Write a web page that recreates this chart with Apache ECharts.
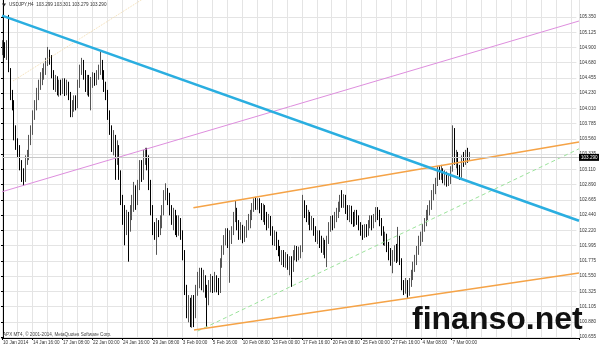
<!DOCTYPE html>
<html><head><meta charset="utf-8">
<script src="https://cdn.jsdelivr.net/npm/echarts@6/dist/echarts.min.js"></script>
<style>html,body{margin:0;padding:0;background:#fff}#c{width:599px;height:347px}</style>
</head><body><div id="c"></div>
<script>
// ---- data ----
const TICK_LABELS = ["10 Jan 2014","14 Jan 16:00","17 Jan 08:00","22 Jan 00:00","24 Jan 16:00","29 Jan 08:00","3 Feb 00:00","5 Feb 16:00","10 Feb 08:00","13 Feb 00:00","17 Feb 16:00","20 Feb 08:00","25 Feb 00:00","27 Feb 16:00","4 Mar 08:00","7 Mar 00:00"];
const Y_LABELS = ["100.655","100.880","101.105","101.325","101.550","101.775","101.995","102.220","102.440","102.665","102.890","103.110","103.335","103.560","103.785","104.010","104.230","104.455","104.680","104.900","105.125","105.350"];
const SLOTS = 308;           // H4 bar slots incl. chart shift space
const LAST_PRICE = 103.290;
const TITLE = "USDJPY,H4  103.299 103.301 103.279 103.290";
const COPYRIGHT = "APX MT4, \u00a9 2001-2014, MetaQuotes Software Corp.";
const WATERMARK = "finanso.net";

const OPEN = [
104.87,104.94,104.79,104.89,104.57,104.20,104.06,103.69,103.47,103.40,
103.18,103.03,102.99,103.25,103.32,103.54,103.69,103.91,104.06,104.20,
104.35,104.43,104.50,104.57,104.69,104.79,104.72,104.50,104.35,104.43,
104.28,104.35,104.31,104.40,104.28,104.35,104.20,103.96,104.01,104.13,
104.06,104.35,104.57,104.65,104.50,104.35,104.43,104.28,104.40,104.45,
104.43,104.50,104.57,104.65,104.50,104.31,104.20,103.91,103.69,103.43,
103.54,103.28,103.40,103.03,102.66,102.44,102.30,102.37,102.25,102.44,
102.59,102.81,102.66,102.88,103.13,103.03,103.25,103.32,103.25,102.88,
102.52,102.25,102.20,102.30,102.22,102.34,102.52,102.74,102.78,102.69,
102.52,102.37,102.44,102.30,102.22,102.34,102.15,101.86,101.34,101.05,
101.12,100.93,101.20,101.02,101.31,101.49,101.61,101.42,101.52,101.34,
101.20,101.42,101.49,101.37,101.52,101.42,101.34,101.71,101.93,102.08,
102.15,102.08,102.11,102.20,102.40,102.49,102.30,102.15,102.25,102.11,
102.20,102.30,102.37,102.44,102.55,102.64,102.59,102.66,102.55,102.44,
102.52,102.40,102.30,102.37,102.20,102.08,102.14,102.00,101.93,101.81,
101.86,101.76,101.81,101.71,101.76,101.67,101.86,101.93,101.86,101.90,
101.93,102.59,102.52,102.40,102.44,102.30,102.34,102.20,102.11,102.15,
102.05,101.96,102.02,101.93,102.08,102.25,102.34,102.30,102.40,102.44,
102.55,102.66,102.62,102.69,102.52,102.44,102.52,102.40,102.34,102.44,
102.37,102.28,102.22,102.15,102.25,102.20,102.30,102.37,102.30,102.40,
102.49,102.44,102.34,102.20,102.08,102.11,101.96,101.86,101.78,101.86,
101.93,101.81,102.08,101.76,101.42,101.34,101.42,101.31,101.46,101.56,
101.67,101.78,101.93,102.08,102.12,102.25,102.34,102.44,102.52,102.59,
102.74,102.81,102.91,103.08,103.02,103.10,102.99,103.03,102.93,102.99,
103.10,103.54,103.22,103.32,103.10,103.03,103.25,103.22,103.32,103.28];
const HIGH = [
105.01,104.98,105.01,105.38,104.60,104.28,104.13,103.76,103.57,103.47,
103.25,103.13,103.32,103.40,103.62,103.76,103.98,104.13,104.31,104.43,
104.54,104.60,104.67,104.75,104.91,104.87,104.79,104.57,104.50,104.48,
104.43,104.43,104.45,104.45,104.43,104.40,104.25,104.13,104.20,104.20,
104.43,104.65,104.75,104.72,104.57,104.50,104.50,104.47,104.54,104.53,
104.57,104.65,104.84,104.72,104.57,104.40,104.28,103.98,103.76,103.69,
103.62,103.54,103.47,103.10,102.74,102.59,102.52,102.49,102.59,102.74,
102.93,102.88,102.96,103.25,103.25,103.40,103.43,103.43,103.32,102.96,
102.59,102.34,102.40,102.37,102.44,102.59,102.81,102.91,102.84,102.77,
102.59,102.55,102.52,102.44,102.44,102.40,102.22,101.93,101.42,101.27,
101.23,101.27,101.27,101.42,101.61,101.67,101.67,101.64,101.56,101.42,
101.49,101.58,101.55,101.61,101.56,101.52,101.81,102.00,102.15,102.25,
102.25,102.22,102.28,102.49,102.66,102.55,102.37,102.34,102.30,102.28,
102.37,102.46,102.52,102.62,102.69,102.71,102.69,102.69,102.62,102.61,
102.59,102.49,102.46,102.43,102.28,102.22,102.20,102.08,101.99,101.93,
101.93,101.90,101.87,101.84,101.84,101.93,102.00,101.99,101.98,102.00,
102.74,102.66,102.59,102.52,102.49,102.43,102.40,102.28,102.22,102.22,
102.14,102.11,102.08,102.14,102.34,102.43,102.44,102.49,102.55,102.64,
102.74,102.81,102.75,102.74,102.59,102.59,102.58,102.49,102.52,102.52,
102.44,102.34,102.30,102.31,102.31,102.37,102.44,102.44,102.46,102.56,
102.56,102.52,102.40,102.28,102.20,102.17,102.05,101.96,101.93,102.00,
102.02,102.27,102.14,101.81,101.49,101.52,101.49,101.52,101.64,101.76,
101.86,101.99,102.14,102.20,102.31,102.40,102.52,102.59,102.66,102.81,
102.90,102.99,103.16,103.16,103.18,103.13,103.10,103.08,103.06,103.16,
103.76,103.72,103.40,103.37,103.18,103.32,103.37,103.40,103.43,103.37];
const LOW = [
104.79,104.75,104.72,104.54,104.13,103.98,103.54,103.40,103.28,103.10,
102.93,102.87,102.93,103.18,103.25,103.47,103.62,103.84,103.98,104.13,
104.28,104.35,104.43,104.50,104.63,104.65,104.45,104.28,104.25,104.20,
104.18,104.20,104.22,104.19,104.20,104.13,103.88,103.88,103.96,103.98,
104.01,104.31,104.50,104.43,104.25,104.20,104.18,103.98,104.31,104.34,
104.35,104.43,104.50,104.43,104.25,104.13,103.84,103.62,103.37,103.32,
102.96,103.18,102.96,102.59,102.30,102.00,102.15,101.76,102.20,102.37,
102.49,102.52,102.59,102.81,102.93,102.96,103.18,103.10,102.81,102.44,
102.15,102.08,101.86,102.12,102.15,102.25,102.44,102.66,102.59,102.44,
102.30,102.22,102.15,102.12,102.14,102.08,101.78,101.27,100.93,100.87,
100.80,100.79,100.80,100.93,101.26,101.37,101.34,101.31,101.23,100.80,
101.12,101.31,101.30,101.31,101.31,101.27,101.30,101.67,101.86,102.00,
101.96,101.45,102.02,102.15,102.34,102.22,102.08,102.08,102.03,102.05,
102.11,102.22,102.25,102.37,102.49,102.52,102.52,102.47,102.37,102.34,
102.30,102.22,102.25,102.14,102.00,101.99,101.93,101.84,101.76,101.71,
101.68,101.67,101.64,101.56,101.39,101.61,101.78,101.76,101.78,101.81,
101.90,102.40,102.34,102.30,102.22,102.22,102.14,102.05,102.02,101.96,
101.89,101.86,101.81,101.68,102.02,102.20,102.22,102.25,102.34,102.40,
102.49,102.55,102.55,102.46,102.37,102.34,102.31,102.27,102.28,102.30,
102.22,102.14,102.08,102.11,102.12,102.14,102.25,102.22,102.25,102.34,
102.37,102.28,102.14,102.00,101.99,101.90,101.78,101.70,101.59,101.76,
101.74,101.76,101.71,101.34,101.27,101.29,101.23,101.26,101.39,101.49,
101.61,101.71,101.86,101.99,102.05,102.20,102.28,102.37,102.44,102.52,
102.66,102.75,102.87,102.96,102.96,102.91,102.88,102.86,102.87,102.90,
103.08,103.18,103.13,103.03,102.96,102.99,103.15,103.18,103.21,103.25];
const CLOSE = [
104.94,104.79,104.89,104.57,104.20,104.06,103.69,103.47,103.40,103.18,
103.03,102.99,103.25,103.32,103.54,103.69,103.91,104.06,104.20,104.35,
104.43,104.50,104.57,104.69,104.79,104.72,104.50,104.35,104.43,104.28,
104.35,104.31,104.40,104.28,104.35,104.20,103.96,104.01,104.13,104.06,
104.35,104.57,104.65,104.50,104.35,104.43,104.28,104.40,104.45,104.43,
104.50,104.57,104.65,104.50,104.31,104.20,103.91,103.69,103.43,103.54,
103.28,103.40,103.03,102.66,102.44,102.30,102.37,102.25,102.44,102.59,
102.81,102.66,102.88,103.13,103.03,103.25,103.32,103.25,102.88,102.52,
102.25,102.20,102.30,102.22,102.34,102.52,102.74,102.78,102.69,102.52,
102.37,102.44,102.30,102.22,102.34,102.15,101.86,101.34,101.05,101.12,
100.93,101.20,101.02,101.31,101.49,101.61,101.42,101.52,101.34,101.20,
101.42,101.49,101.37,101.52,101.42,101.34,101.71,101.93,102.08,102.15,
102.08,102.11,102.20,102.40,102.49,102.30,102.15,102.25,102.11,102.20,
102.30,102.37,102.44,102.55,102.64,102.59,102.66,102.55,102.44,102.52,
102.40,102.30,102.37,102.20,102.08,102.14,102.00,101.93,101.81,101.86,
101.76,101.81,101.71,101.76,101.67,101.86,101.93,101.86,101.90,101.93,
102.59,102.52,102.40,102.44,102.30,102.34,102.20,102.11,102.15,102.05,
101.96,102.02,101.93,102.08,102.25,102.34,102.30,102.40,102.44,102.55,
102.66,102.62,102.69,102.52,102.44,102.52,102.40,102.34,102.44,102.37,
102.28,102.22,102.15,102.25,102.20,102.30,102.37,102.30,102.40,102.49,
102.44,102.34,102.20,102.08,102.11,101.96,101.86,101.78,101.86,101.93,
101.81,102.08,101.76,101.42,101.34,101.42,101.31,101.46,101.56,101.67,
101.78,101.93,102.08,102.12,102.25,102.34,102.44,102.52,102.59,102.74,
102.81,102.91,103.08,103.02,103.10,102.99,103.03,102.93,102.99,103.10,
103.54,103.22,103.32,103.10,103.03,103.25,103.22,103.32,103.28,103.29];

// trend lines: [bar index, price]
const CYAN_LINE   = [[-0.5, 105.37], [307.5, 102.36]];
const PINK_LINE   = [[-0.5, 102.786], [307.5, 105.291]];
const ORANGE_UP   = [[101.65, 102.552], [307.5, 103.516]];
const ORANGE_LOW  = [[101.97, 100.757], [307.5, 101.594]];
const GREEN_LINE  = [[103.94, 100.742], [307.5, 103.416]];
const YELLOW_LINE = [[5.36, 104.411], [75, 105.62]];

// ---- chart ----
const FONT = '"Liberation Sans", Arial, sans-serif';
const cats = Array.from({length: SLOTS}, (_, i) => String(i));
const candles = OPEN.map((o, i) => [o, CLOSE[i], LOW[i], HIGH[i]]);
const chart = echarts.init(document.getElementById('c'), null, {renderer: 'canvas'});

function trend(data, color, width, type, z) {
  return {type: 'line', xAxisIndex: 1, yAxisIndex: 0, data: data, symbol: 'none', silent: true,
    lineStyle: {color: color, width: width, type: type}, z: z, animation: false, clip: true};
}

chart.setOption({
  animation: false,
  backgroundColor: '#ffffff',
  grid: [
    {left: 1, right: 20, top: 0, bottom: 9},
    {left: 1, right: 20, top: 17, bottom: 10}
  ],
  xAxis: [
    {type: 'category', gridIndex: 0, data: cats, boundaryGap: true,
     axisLine: {show: true, lineStyle: {color: '#000', width: 1}},
     axisTick: {show: true, length: 2, interval: (i) => i % 16 === 0 && i / 16 < TICK_LABELS.length, lineStyle: {color: '#000'}},
     axisLabel: {show: true, interval: (i) => i % 16 === 0 && i / 16 < TICK_LABELS.length,
       formatter: (v, i) => TICK_LABELS[Math.round(Number(v) / 16)] || '', align: 'left', margin: 2,
       fontSize: 4.6, color: '#333', fontFamily: FONT, padding: [0, 0, 0, 0]},
     splitLine: {show: true, interval: (i) => i % 8 === 0, lineStyle: {color: '#e4e4e4', width: 1}}},
    {type: 'value', gridIndex: 0, min: -0.5, max: SLOTS - 0.5, show: false},
    {type: 'value', gridIndex: 1, show: false}
  ],
  yAxis: [
    {type: 'value', gridIndex: 0, position: 'right', min: 100.640, max: 105.599, scale: true,
     axisLine: {show: true, lineStyle: {color: '#000', width: 1}}, axisTick: {show: false},
     axisLabel: {show: false}, splitLine: {show: false}},
    {type: 'category', gridIndex: 1, position: 'right', data: Y_LABELS, boundaryGap: false,
     axisLine: {show: false}, axisTick: {show: true, length: 2, lineStyle: {color: '#000'}},
     axisLabel: {show: true, interval: 0, margin: 3, fontSize: 4.6, color: '#333', fontFamily: FONT},
     splitLine: {show: true, interval: 0, lineStyle: {color: '#e4e4e4', width: 1}}}
  ],
  series: [
    {type: 'candlestick', xAxisIndex: 0, yAxisIndex: 0, data: candles, barWidth: 1.3, z: 2,
     itemStyle: {color: '#8c8c8c', color0: '#000000', borderColor: '#555555', borderColor0: '#000000', borderWidth: 1},
     markLine: {symbol: 'none', silent: true, animation: false,
       data: [{yAxis: LAST_PRICE}],
       lineStyle: {color: '#c8c8c8', type: 'solid', width: 1},
       label: {position: 'end', formatter: LAST_PRICE.toFixed(3), backgroundColor: '#000', color: '#fff',
         fontSize: 4.6, fontFamily: FONT, padding: [1, 3, 1, 2], distance: 0}}},
    trend(YELLOW_LINE, '#f2dcb0', 1, 'dotted', 3),
    trend(PINK_LINE, '#de8ede', 1, 'solid', 3),
    trend(GREEN_LINE, '#9be39b', 1, [4, 3], 3),
    trend(ORANGE_UP, '#f5a347', 1.6, 'solid', 4),
    trend(ORANGE_LOW, '#f5a347', 1.6, 'solid', 4),
    trend(CYAN_LINE, '#2aaee0', 2.6, 'solid', 5)
  ],
  graphic: [
    {type: 'polygon', shape: {points: [[2, 3.5], [6, 3.5], [4, 6.5]]}, style: {fill: '#222'}, z: 10},
    {type: 'text', left: 9, top: 2.5, z: 10, style: {text: TITLE, fontSize: 4.6, fontFamily: FONT, fill: '#333'}},
    {type: 'text', left: 3, top: 332.5, z: 10, style: {text: COPYRIGHT, fontSize: 4.6, fontFamily: FONT, fill: '#444'}},
    {type: 'text', x: 412, y: 320, z: 20, style: {text: WATERMARK, font: 'bold 32px "Liberation Sans", Arial, sans-serif',
      fill: '#111', verticalAlign: 'middle', align: 'left'}}
  ]
});
</script></body></html>
